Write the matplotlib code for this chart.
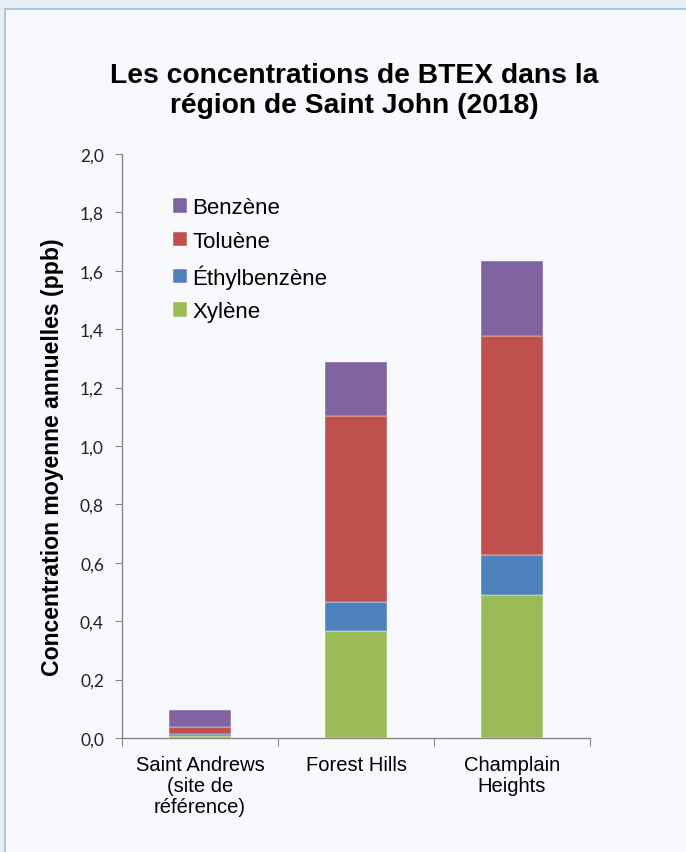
#imports
import numpy as np
import matplotlib.pyplot as plt
from matplotlib.patches import Rectangle

#data
sites = ['Saint Andrews\n(site de\nréférence)', 'Forest Hills', 'Champlain\nHeights']
xylene = [0.008, 0.367, 0.489]
ethylbenzene = [0.005, 0.098, 0.138]
toluene = [0.024, 0.637, 0.751]
benzene = [0.059, 0.185, 0.255]
series = ['Xylène', 'Éthylbenzène', 'Toluène', 'Benzène']
colors = ['#9bbb59', '#4f81bd', '#c0504d', '#8064a2']
yticks = np.arange(0, 2.01, 0.2)

#figure
fig = plt.figure(figsize=(6.86, 8.53), dpi=100, facecolor='#e8edf3')
fig.patches.append(Rectangle((5/686, -0.1), 1.2, 1.1 - 10/853, transform=fig.transFigure,
                             facecolor='#f8f9fc', edgecolor='#9dbfe0', lw=1.2, zorder=-10))
ax = fig.add_axes([122/686, 1 - 739/853, (590 - 122)/686, (739 - 155)/853])
ax.set_facecolor('none')
ax.set_zorder(5)

x = np.arange(len(sites))
bottom = np.zeros(len(sites))
bars = []
for vals, c, name in zip([xylene, ethylbenzene, toluene, benzene], colors, series):
    b = ax.bar(x, vals, 0.4, bottom=bottom, color=c, edgecolor='#ffffff', lw=0.3, label=name)
    bars.append(b)
    bottom += np.array(vals)

#axes
ax.set_xlim(-0.5, 2.5)
ax.set_ylim(0, 2.0)
ax.set_yticks(yticks)
ax.set_yticklabels([f'{v:.1f}'.replace('.', ',') for v in yticks], family='Lato', fontsize=12.5,
                   color='#222222')
ax.set_xticks([-0.5, 0.5, 1.5, 2.5])
ax.set_xticklabels([])
ax.set_xticks(x, minor=True)
ax.set_xticklabels(sites, minor=True, family='Liberation Sans', fontsize=14.5, linespacing=1.15)
ax.tick_params(axis='x', which='minor', length=0, pad=12)
ax.tick_params(axis='x', which='major', length=6, color='#888888')
ax.tick_params(axis='y', length=5, color='#888888', pad=8)
for s in ['top', 'right']:
    ax.spines[s].set_visible(False)
for s in ['left', 'bottom']:
    ax.spines[s].set_color('#888888')
    ax.spines[s].set_linewidth(1)

ax.set_ylabel('Concentration moyenne annuelles (ppb)', family='Liberation Sans',
              fontsize=16.6, fontweight='bold')
ax.yaxis.set_label_coords(-0.124, 0.483)
fig.text(354/686, 1 - 91/853, 'Les concentrations de BTEX dans la\nrégion de Saint John (2018)',
         ha='center', va='center', family='Liberation Sans', fontsize=20.3, fontweight='bold',
         linespacing=1.2)

handles = bars[::-1]
ax.legend(handles, [h.get_label() for h in handles], loc='upper left', bbox_to_anchor=(0.066, 0.96),
          frameon=False, handlelength=0.62, handleheight=0.62, handletextpad=0.25,
          labelspacing=0.56, prop={'family': 'Liberation Sans', 'size': 16})

fig.savefig('out.png', dpi=100, facecolor=fig.get_facecolor())
